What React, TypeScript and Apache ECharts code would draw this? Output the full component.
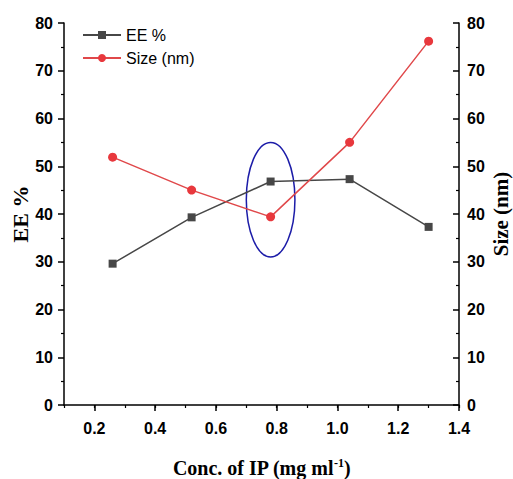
import React, { useEffect, useRef } from "react";
import * as echarts from "echarts";

const concentrations = [0.26, 0.52, 0.78, 1.04, 1.3];
const eePercent = [29.6, 39.3, 46.8, 47.3, 37.3];
const sizeNm = [51.9, 45.0, 39.4, 55.0, 76.2];
const xTickValues = [0.2, 0.4, 0.6, 0.8, 1.0, 1.2, 1.4];
// highlighted region: [centre x, centre y, half width (x units), half height (y units)]
const highlight = [[0.78, 43, 0.08, 12]];

const sans = "'Liberation Sans', Arial, sans-serif";
const serif = "'Liberation Serif', 'Times New Roman', serif";

export default function App() {
  const ref = useRef<HTMLDivElement>(null);
  useEffect(() => {
    document.body.style.margin = "0";
    const chart = echarts.init(ref.current!, null, { renderer: "svg" });
    const axisLine = { show: true, lineStyle: { color: "#000", width: 1.5 } };
    const yLabel = { fontFamily: sans, fontWeight: "bold", fontSize: 16, color: "#000" };
    chart.setOption({
      animation: false,
      backgroundColor: "#fff",
      grid: { left: 64, right: 54, top: 23, bottom: 74, outerBoundsMode: "none", containLabel: false },
      legend: {
        data: ["EE %", "Size (nm)"],
        orient: "vertical",
        left: 77,
        top: 22,
        itemWidth: 38,
        itemHeight: 10,
        itemGap: 7,
        textStyle: { fontFamily: sans, fontSize: 16, color: "#000" },
      },
      xAxis: [
        {
          type: "value",
          min: 0.1,
          max: 1.4,
          axisLine,
          splitLine: { show: false },
          axisTick: { show: true, length: 6, lineStyle: { width: 1.5, color: "#000" }, customValues: xTickValues },
          axisLabel: {
            ...yLabel,
            margin: 15,
            customValues: xTickValues,
            formatter: (v: number) => v.toFixed(1),
          },
          name: "{a|Conc. of IP (mg ml}{s|-1}{a|)}",
          nameLocation: "middle",
          nameMoveOverlap: false,
          nameGap: 52,
          nameTextStyle: {
            rich: {
              a: { fontFamily: serif, fontWeight: "bold", fontSize: 20, lineHeight: 22, color: "#000" },
              s: { fontFamily: serif, fontWeight: "bold", fontSize: 12, lineHeight: 12, color: "#000", verticalAlign: "top" },
            },
          },
        },
        {
          type: "value",
          min: 0.1,
          max: 1.4,
          interval: 0.1,
          position: "bottom",
          axisLine: { show: false },
          splitLine: { show: false },
          axisTick: { show: true, length: 3, lineStyle: { width: 1.2, color: "#000" } },
          axisLabel: { show: false },
        },
      ],
      yAxis: [
        {
          type: "value",
          min: 0,
          max: 80,
          interval: 10,
          axisLine,
          splitLine: { show: false },
          axisTick: { show: true, length: 6, lineStyle: { width: 1.5, color: "#000" } },
          minorTick: { show: true, splitNumber: 2, length: 3, lineStyle: { width: 1.2, color: "#000" } },
          axisLabel: { ...yLabel, margin: 11 },
          name: "EE %",
          nameLocation: "middle",
          nameRotate: 90,
          nameMoveOverlap: false,
          nameGap: 33,
          nameTextStyle: { fontFamily: serif, fontWeight: "bold", fontSize: 22, color: "#000" },
        },
        {
          type: "value",
          min: 0,
          max: 80,
          interval: 10,
          position: "right",
          axisLine,
          splitLine: { show: false },
          axisTick: { show: true, inside: true, length: 6, lineStyle: { width: 1.5, color: "#000" } },
          minorTick: { show: true, splitNumber: 2, length: 3, lineStyle: { width: 1.2, color: "#000" } },
          axisLabel: { ...yLabel, margin: 8 },
          name: "Size (nm)",
          nameLocation: "middle",
          nameRotate: 90,
          nameMoveOverlap: false,
          nameGap: 31,
          nameTextStyle: { fontFamily: serif, fontWeight: "bold", fontSize: 21, color: "#000" },
        },
      ],
      series: [
        {
          name: "EE %",
          type: "line",
          xAxisIndex: 0,
          yAxisIndex: 0,
          data: concentrations.map((c, i) => [c, eePercent[i]]),
          symbol: "rect",
          symbolSize: 8,
          itemStyle: { color: "#474747" },
          lineStyle: { color: "#474747", width: 1.5 },
        },
        {
          name: "Size (nm)",
          type: "line",
          xAxisIndex: 0,
          yAxisIndex: 1,
          data: concentrations.map((c, i) => [c, sizeNm[i]]),
          symbol: "circle",
          symbolSize: 9,
          itemStyle: { color: "#e8383d" },
          lineStyle: { color: "#e0484a", width: 1.5 },
        },
        {
          name: "highlight",
          type: "custom",
          xAxisIndex: 0,
          yAxisIndex: 0,
          data: highlight,
          silent: true,
          renderItem: (params: any, api: any) => {
            const c = api.coord([api.value(0), api.value(1)]);
            const s = api.size([api.value(2), api.value(3)]);
            return {
              type: "ellipse",
              shape: { cx: c[0], cy: c[1], rx: s[0], ry: s[1] },
              style: { fill: "none", stroke: "#1c1ca8", lineWidth: 1.5 },
            };
          },
        },
      ],
    });
    return () => chart.dispose();
  }, []);
  return <div ref={ref} style={{ width: 513, height: 479 }} />;
}
